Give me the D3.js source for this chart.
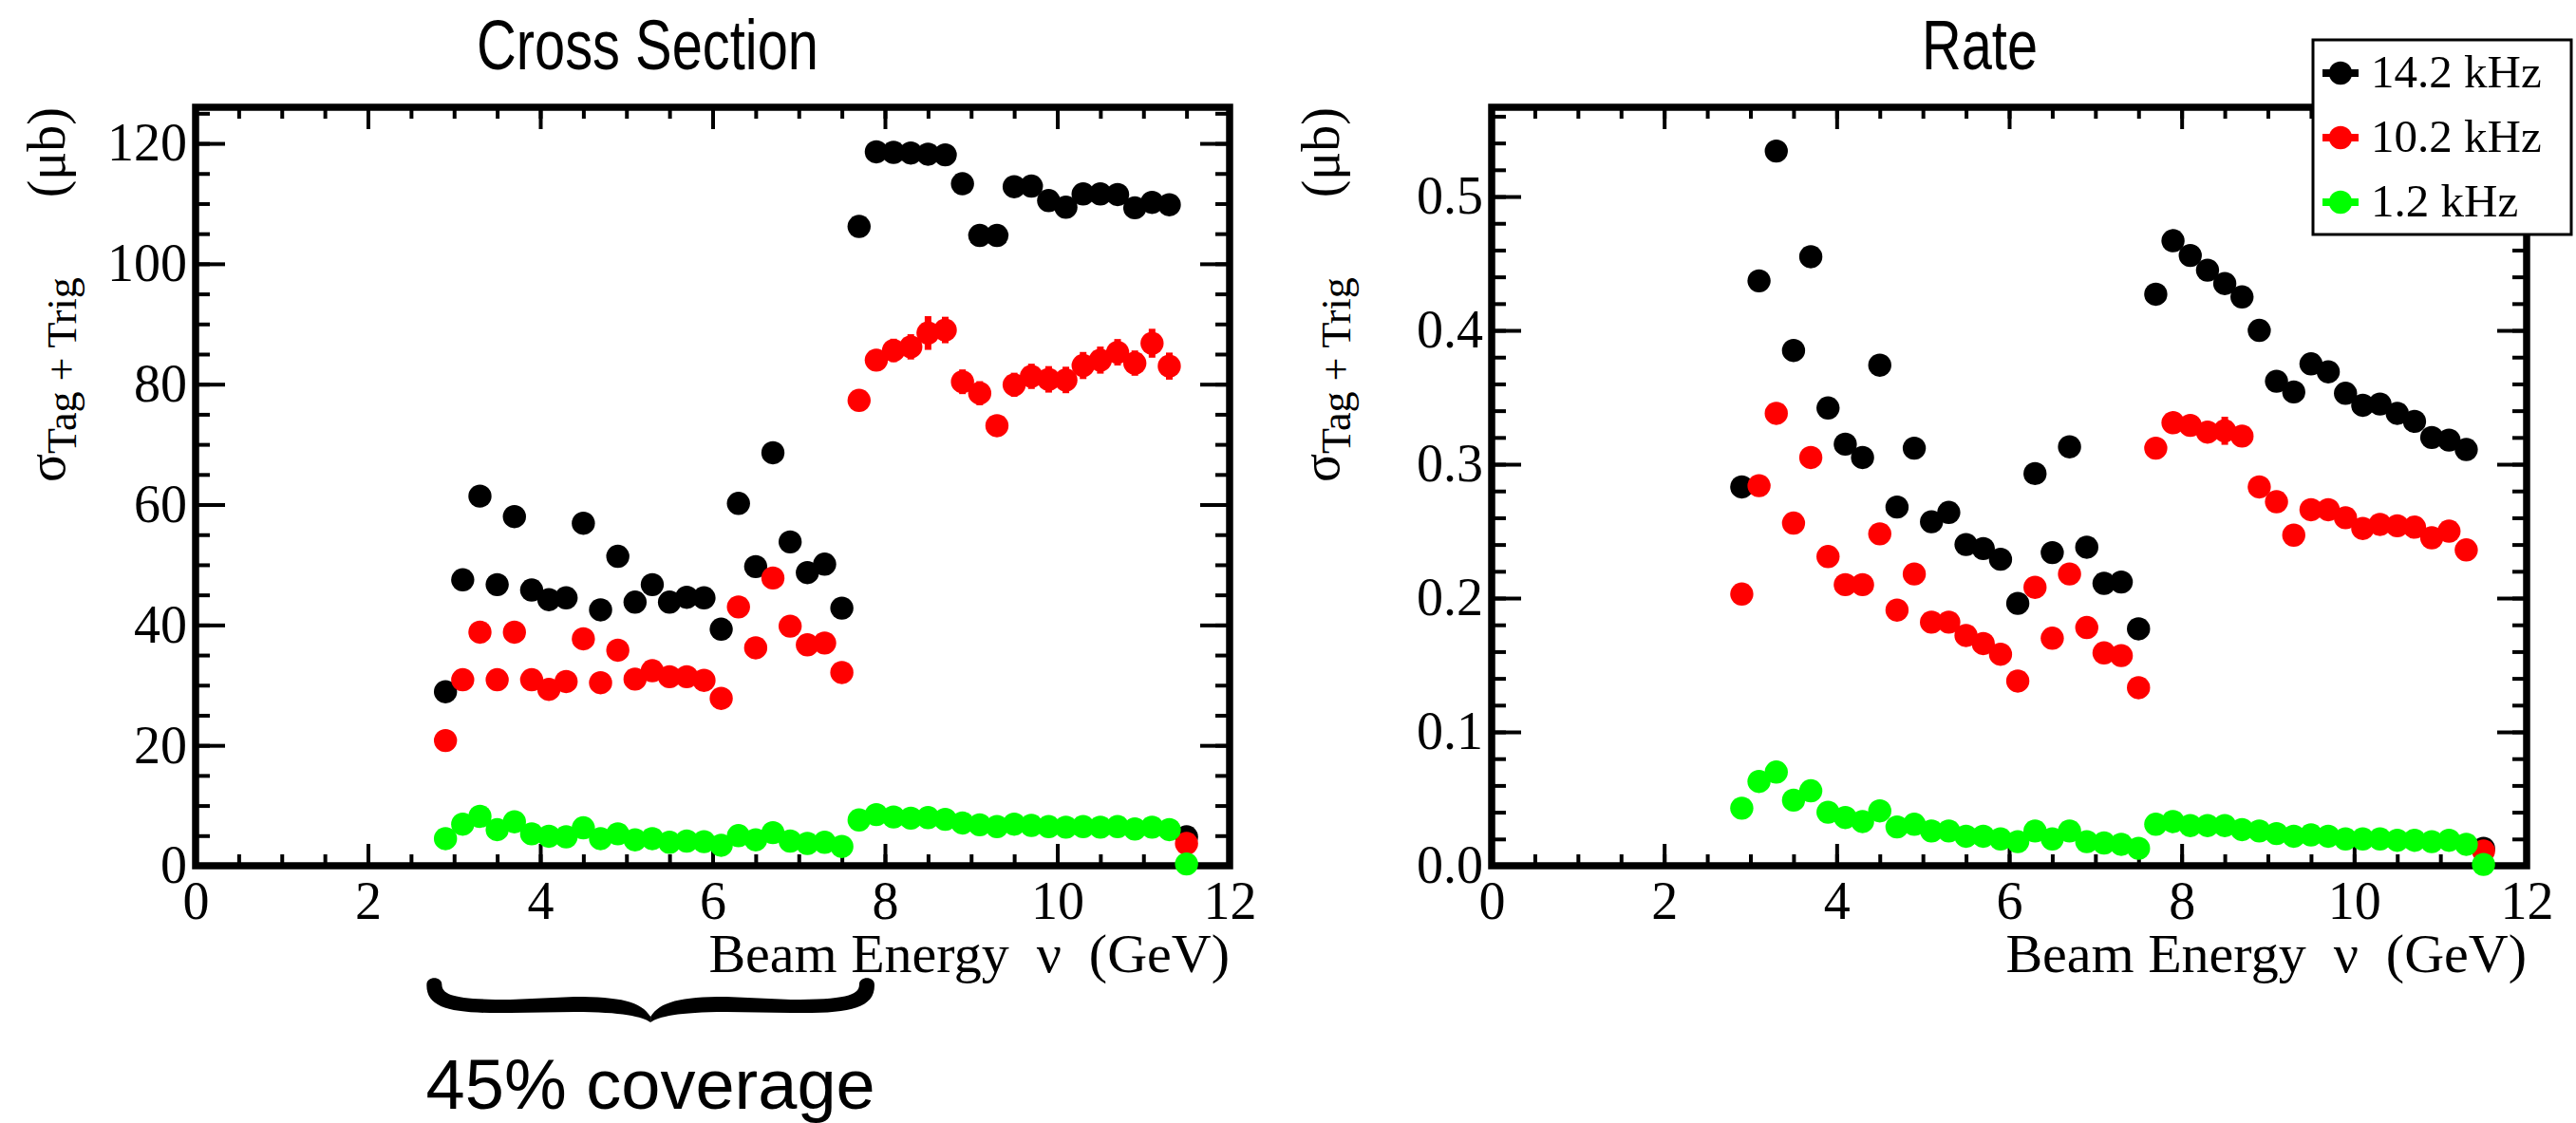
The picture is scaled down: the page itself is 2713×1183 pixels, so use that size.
<!DOCTYPE html>
<html>
<head>
<meta charset="utf-8">
<script src="https://cdn.jsdelivr.net/npm/d3@7"></script>
<style>
  body { margin: 0; background: #fff; }
  svg { display: block; }
</style>
</head>
<body>
<svg id="chart" width="2713" height="1183"></svg>
<script>
// Beam energy bins (GeV)
const energy = [2.9, 3.1, 3.3, 3.5, 3.7, 3.9, 4.1, 4.3, 4.5, 4.7, 4.9, 5.1, 5.3, 5.5, 5.7, 5.9,
  6.1, 6.3, 6.5, 6.7, 6.9, 7.1, 7.3, 7.5, 7.7, 7.9, 8.1, 8.3, 8.5, 8.7, 8.9, 9.1, 9.3, 9.5,
  9.7, 9.9, 10.1, 10.3, 10.5, 10.7, 10.9, 11.1, 11.3, 11.5];

// Cross section (ub) for the three trigger rates
const xsec14 = [28.9, 47.5, 61.4, 46.7, 58.0, 45.8, 44.2, 44.5, 56.9, 42.5, 51.4, 43.8, 46.7, 43.8,
  44.6, 44.5, 39.3, 60.2, 49.7, 68.6, 53.8, 48.7, 50.1, 42.8, 106.2, 118.6, 118.5, 118.4, 118.2,
  118.1, 113.3, 104.7, 104.7, 112.8, 112.9, 110.5, 109.4, 111.6, 111.6, 111.5, 109.3, 110.2, 109.8, 4.8];
const xsec10 = [20.8, 30.9, 38.8, 30.9, 38.8, 30.9, 29.3, 30.6, 37.7, 30.4, 35.8, 31.0, 32.4, 31.4,
  31.4, 30.8, 27.8, 43.0, 36.2, 47.8, 39.8, 36.7, 37.0, 32.1, 77.3, 84.0, 85.6, 86.2, 88.5, 89.0,
  80.4, 78.5, 73.1, 79.9, 81.3, 80.8, 80.7, 83.1, 84.0, 85.3, 83.5, 86.8, 83.0, 3.7];
const xsec1 = [4.5, 6.9, 8.2, 6.0, 7.3, 5.3, 4.9, 4.8, 6.3, 4.5, 5.3, 4.3, 4.5, 3.9, 4.1, 4.0, 3.4,
  5.0, 4.3, 5.5, 4.1, 3.7, 3.9, 3.2, 7.6, 8.5, 8.1, 7.9, 8.0, 7.7, 7.1, 6.8, 6.5, 6.9, 6.7, 6.5,
  6.4, 6.5, 6.4, 6.5, 6.1, 6.4, 6.0, 0.3];

// Cross section uncertainties (ub)
const xsec14Err = [1.0, 1.2, 1.4, 1.2, 1.3, 1.1, 1.1, 1.1, 1.3, 1.1, 1.2, 1.1, 1.2, 1.1, 1.1, 1.1,
  1.0, 1.3, 1.2, 1.4, 1.3, 1.2, 1.2, 1.1, 1.5, 1.6, 1.6, 1.6, 1.7, 1.7, 1.6, 1.5, 1.5, 1.6, 1.6,
  1.6, 1.6, 1.6, 1.6, 1.6, 1.6, 1.7, 1.6, 0.5];
const xsec10Err = [0.8, 1.0, 1.1, 1.0, 1.1, 1.0, 1.0, 1.0, 1.1, 1.0, 1.1, 1.0, 1.0, 1.0, 1.0, 1.0,
  0.9, 1.2, 1.1, 1.2, 1.1, 1.1, 1.1, 1.0, 1.6, 1.8, 1.95, 2.1, 2.8, 2.2, 2.05, 2.0, 1.5, 2.0, 2.1,
  2.2, 2.2, 2.25, 2.25, 2.2, 2.1, 2.4, 2.25, 0.5];
const xsec1Err = [0.3, 0.3, 0.4, 0.3, 0.3, 0.3, 0.3, 0.3, 0.3, 0.3, 0.3, 0.3, 0.3, 0.3, 0.3, 0.3,
  0.3, 0.3, 0.3, 0.3, 0.3, 0.3, 0.3, 0.3, 0.4, 0.4, 0.4, 0.4, 0.4, 0.4, 0.4, 0.4, 0.4, 0.4, 0.4,
  0.4, 0.4, 0.4, 0.4, 0.4, 0.4, 0.4, 0.4, 0.2];

// Rate for the three trigger rates
const rate14 = [0.283, 0.437, 0.534, 0.385, 0.455, 0.342, 0.315, 0.305, 0.374, 0.268, 0.312, 0.257,
  0.264, 0.240, 0.237, 0.229, 0.196, 0.293, 0.234, 0.313, 0.238, 0.211, 0.212, 0.177, 0.427, 0.467,
  0.456, 0.445, 0.435, 0.425, 0.400, 0.362, 0.354, 0.375, 0.369, 0.353, 0.344, 0.345, 0.338, 0.332,
  0.320, 0.318, 0.311, 0.013];
const rate10 = [0.203, 0.284, 0.338, 0.256, 0.305, 0.231, 0.210, 0.210, 0.248, 0.191, 0.218, 0.182,
  0.182, 0.172, 0.166, 0.158, 0.138, 0.208, 0.170, 0.218, 0.178, 0.159, 0.157, 0.133, 0.312, 0.331,
  0.329, 0.324, 0.325, 0.321, 0.283, 0.272, 0.247, 0.266, 0.266, 0.260, 0.252, 0.255, 0.254, 0.253,
  0.245, 0.250, 0.236, 0.011];
const rate1 = [0.043, 0.063, 0.070, 0.049, 0.056, 0.040, 0.036, 0.033, 0.041, 0.029, 0.031, 0.026,
  0.026, 0.022, 0.022, 0.020, 0.018, 0.026, 0.020, 0.026, 0.018, 0.017, 0.016, 0.013, 0.031, 0.033,
  0.030, 0.030, 0.030, 0.027, 0.026, 0.024, 0.022, 0.023, 0.022, 0.020, 0.020, 0.020, 0.019, 0.019,
  0.018, 0.019, 0.016, 0.001];

// Rate uncertainties
const rate14Err = [0.004, 0.005, 0.006, 0.005, 0.005, 0.004, 0.004, 0.004, 0.005, 0.004, 0.004, 0.004,
  0.004, 0.004, 0.004, 0.004, 0.004, 0.004, 0.004, 0.004, 0.004, 0.004, 0.004, 0.004, 0.005, 0.005,
  0.005, 0.005, 0.005, 0.005, 0.005, 0.005, 0.005, 0.005, 0.005, 0.005, 0.005, 0.005, 0.005, 0.005,
  0.005, 0.005, 0.005, 0.002];
const rate10Err = [0.004, 0.005, 0.005, 0.005, 0.005, 0.004, 0.004, 0.004, 0.005, 0.004, 0.004, 0.004,
  0.004, 0.004, 0.004, 0.004, 0.004, 0.005, 0.004, 0.005, 0.004, 0.004, 0.004, 0.004, 0.006, 0.007,
  0.007, 0.007, 0.0105, 0.007, 0.006, 0.006, 0.006, 0.006, 0.006, 0.006, 0.006, 0.006, 0.006, 0.006,
  0.006, 0.006, 0.006, 0.002];
const rate1Err = [0.001, 0.001, 0.001, 0.001, 0.001, 0.001, 0.001, 0.001, 0.001, 0.001, 0.001, 0.001,
  0.001, 0.001, 0.001, 0.001, 0.001, 0.001, 0.001, 0.001, 0.001, 0.001, 0.001, 0.001, 0.001, 0.001,
  0.001, 0.001, 0.001, 0.001, 0.001, 0.001, 0.001, 0.001, 0.001, 0.001, 0.001, 0.001, 0.001, 0.001,
  0.001, 0.001, 0.001, 0.001];

const seriesNames = ["14.2 kHz", "10.2 kHz", "1.2 kHz"];
const seriesColors = ["#000000", "#ff0000", "#00ff00"];

// Axis ticks
const xMajorTicks = [0, 2, 4, 6, 8, 10, 12];
const xsecTicks = [0, 20, 40, 60, 80, 100, 120];
const rateTicks = [0.0, 0.1, 0.2, 0.3, 0.4, 0.5];

// Energy span of the low-energy group that is bracketed below the cross-section panel
const coverageSpan = [2.77, 7.79];
const coverageText = "45% coverage";

const W = 2713, H = 1183;
const frameTop = 113, frameBottom = 912;
const serif = "Liberation Serif, Times New Roman, serif";
const sans = "Liberation Sans, Arial, Helvetica, sans-serif";
const markerR = 12.2;

const svg = d3.select("#chart");
svg.append("rect").attr("width", W).attr("height", H).attr("fill", "#fff");

const panels = [
  {
    left: 206, right: 1295, yMax: 126, yMinorStep: 5,
    yTicks: xsecTicks, yFmt: d3.format("d"),
    values: [xsec14, xsec10, xsec1], errors: [xsec14Err, xsec10Err, xsec1Err],
    title: "Cross Section", titleX: 682, titleLen: 360, ylabX: 68
  },
  {
    left: 1571, right: 2661, yMax: 0.5667, yMinorStep: 0.02,
    yTicks: rateTicks, yFmt: d3.format(".1f"),
    values: [rate14, rate10, rate1], errors: [rate14Err, rate10Err, rate1Err],
    title: "Rate", titleX: 2085, titleLen: 122, ylabX: 1410
  }
];

function styleAxis(g) {
  g.select(".domain").remove();
  g.selectAll(".tick line").attr("stroke", "#000").attr("stroke-width", 4);
  g.attr("font-family", serif).attr("font-size", 56).attr("fill", "#000");
  g.selectAll(".tick text").attr("fill", "#000");
}

const scales = [];

panels.forEach((p) => {
  const x = d3.scaleLinear().domain([0, 12]).range([p.left, p.right]);
  const y = d3.scaleLinear().domain([0, p.yMax]).range([frameBottom, frameTop]);
  scales.push({ x, y });
  const g = svg.append("g");

  const xMinor = d3.range(0, 12.0001, 0.5);
  const yMinor = d3.range(0, p.yMax + 1e-9, p.yMinorStep);

  // bottom axis with labels
  g.append("g").attr("transform", `translate(0,${frameBottom})`)
    .call(d3.axisBottom(x).tickValues(xMinor).tickSize(-12).tickFormat(""))
    .call(styleAxis);
  g.append("g").attr("transform", `translate(0,${frameBottom})`)
    .call(d3.axisBottom(x).tickValues(xMajorTicks).tickSize(-23).tickPadding(16).tickFormat(d3.format("d")))
    .call(styleAxis);
  // top axis
  g.append("g").attr("transform", `translate(0,${frameTop})`)
    .call(d3.axisTop(x).tickValues(xMinor).tickSize(-12).tickFormat(""))
    .call(styleAxis);
  g.append("g").attr("transform", `translate(0,${frameTop})`)
    .call(d3.axisTop(x).tickValues(xMajorTicks).tickSize(-23).tickFormat(""))
    .call(styleAxis);
  // left axis with labels
  g.append("g").attr("transform", `translate(${p.left},0)`)
    .call(d3.axisLeft(y).tickValues(yMinor).tickSize(-15).tickFormat(""))
    .call(styleAxis);
  g.append("g").attr("transform", `translate(${p.left},0)`)
    .call(d3.axisLeft(y).tickValues(p.yTicks).tickSize(-31).tickPadding(9).tickFormat(p.yFmt))
    .call(styleAxis);
  // right axis
  g.append("g").attr("transform", `translate(${p.right},0)`)
    .call(d3.axisRight(y).tickValues(yMinor).tickSize(-15).tickFormat(""))
    .call(styleAxis);
  g.append("g").attr("transform", `translate(${p.right},0)`)
    .call(d3.axisRight(y).tickValues(p.yTicks).tickSize(-31).tickFormat(""))
    .call(styleAxis);

  // frame
  g.append("rect")
    .attr("x", p.left).attr("y", frameTop)
    .attr("width", p.right - p.left).attr("height", frameBottom - frameTop)
    .attr("fill", "none").attr("stroke", "#000").attr("stroke-width", 7.5);

  // data: error bars and markers per series
  p.values.forEach((vals, si) => {
    const sg = g.append("g");
    const pts = energy.map((e, i) => ({ e, v: vals[i], err: p.errors[si][i] }));
    sg.selectAll("line.err").data(pts).join("line")
      .attr("class", "err")
      .attr("x1", d => x(d.e)).attr("x2", d => x(d.e))
      .attr("y1", d => y(d.v - d.err)).attr("y2", d => y(d.v + d.err))
      .attr("stroke", seriesColors[si]).attr("stroke-width", 7);
    sg.selectAll("circle").data(pts).join("circle")
      .attr("cx", d => x(d.e)).attr("cy", d => y(d.v))
      .attr("r", markerR).attr("fill", seriesColors[si]);
  });

  // panel title
  g.append("text")
    .attr("x", p.titleX).attr("y", 73)
    .attr("text-anchor", "middle")
    .attr("font-family", sans).attr("font-size", 74)
    .attr("textLength", p.titleLen).attr("lengthAdjust", "spacingAndGlyphs")
    .text(p.title);

  // x axis title
  g.append("text")
    .attr("x", p.right).attr("y", 1024)
    .attr("text-anchor", "end")
    .attr("font-family", serif).attr("font-size", 58)
    .style("white-space", "pre")
    .text("Beam Energy  \u03bd  (GeV)");

  // y axis title, laid out from its start so that its end meets the top of the frame
  const yt = g.append("text")
    .attr("text-anchor", "start")
    .attr("font-family", serif).attr("font-size", 56)
    .style("white-space", "pre");
  yt.append("tspan").text("\u03c3");
  yt.append("tspan").attr("font-size", 44).attr("dy", 12).text("Tag + Trig");
  yt.append("tspan").attr("dy", -12).text("      (\u03bcb)");
  const len = yt.node().getComputedTextLength();
  yt.attr("transform", `translate(${p.ylabX},${frameTop + len}) rotate(-90)`);
});

// coverage brace under the cross-section panel
{
  const x = scales[0].x;
  const L = x(coverageSpan[0]), R = x(coverageSpan[1]), M = (L + R) / 2;
  const top = 1033, mid = 1059, bot = 1077;
  const half = (s) => {
    // s = +1 for the left half, -1 for the right half (mirrored around M)
    const X = (v) => M + s * (v - M);
    const p = d3.path();
    p.moveTo(X(L - 8), top + 4);
    p.bezierCurveTo(X(L - 9), mid + 4, X(L + 20), mid + 9, X(L + 80), mid + 8);
    p.lineTo(X(M - 80), mid + 7);
    p.bezierCurveTo(X(M - 30), mid + 7, X(M - 8), mid + 12, X(M), bot);
    p.lineTo(X(M), bot - 6);
    p.bezierCurveTo(X(M - 10), mid - 4, X(M - 32), mid - 9, X(M - 80), mid - 9);
    p.lineTo(X(L + 80), mid - 6);
    p.bezierCurveTo(X(L + 24), mid - 6, X(L + 8), mid - 10, X(L + 8), top + 4);
    p.bezierCurveTo(X(L + 8), top - 5, X(L - 8), top - 5, X(L - 8), top + 4);
    p.closePath();
    return p.toString();
  };
  svg.append("path").attr("d", half(1)).attr("fill", "#000");
  svg.append("path").attr("d", half(-1)).attr("fill", "#000");
  svg.append("text")
    .attr("x", M).attr("y", 1168)
    .attr("text-anchor", "middle")
    .attr("font-family", sans).attr("font-size", 74)
    .text(coverageText);
}

// legend
{
  const lg = svg.append("g");
  lg.append("rect")
    .attr("x", 2436).attr("y", 42).attr("width", 272).attr("height", 205)
    .attr("fill", "#fff").attr("stroke", "#000").attr("stroke-width", 3);
  const rows = [77, 145, 213];
  seriesNames.forEach((name, i) => {
    const cy = rows[i];
    lg.append("line").attr("x1", 2446).attr("x2", 2484).attr("y1", cy).attr("y2", cy)
      .attr("stroke", seriesColors[i]).attr("stroke-width", 8);
    lg.append("circle").attr("cx", 2465).attr("cy", cy).attr("r", markerR).attr("fill", seriesColors[i]);
    lg.append("text").attr("x", 2497).attr("y", cy + 15)
      .attr("font-family", serif).attr("font-size", 49)
      .text(name);
  });
}
</script>
</body>
</html>
